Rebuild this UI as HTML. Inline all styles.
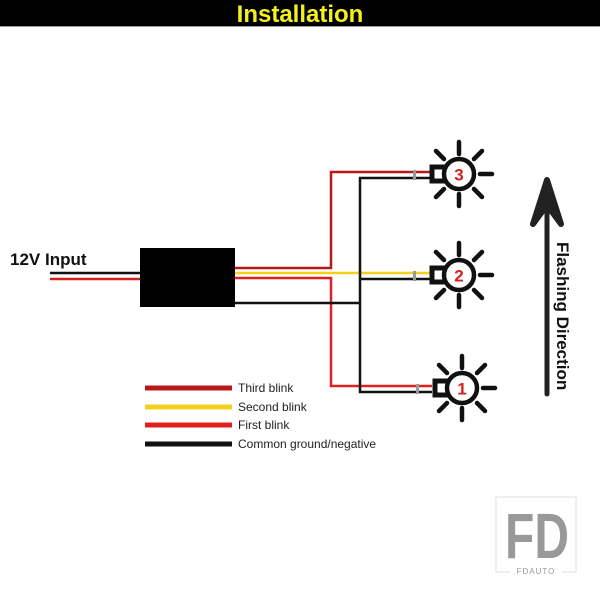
<!DOCTYPE html>
<html><head><style>
html,body{margin:0;padding:0;background:#fff;}
svg{display:block;font-family:"Liberation Sans",sans-serif;}
</style></head><body>
<svg width="600" height="600" viewBox="0 0 600 600" xmlns="http://www.w3.org/2000/svg">
<defs>
<g id="bulb">
<g stroke="#111" stroke-width="4.5" stroke-linecap="round">
<line x1="0" y1="-20" x2="0" y2="-32"/><line x1="0" y1="20" x2="0" y2="32"/>
<line x1="21" y1="0" x2="33" y2="0"/>
<line x1="15" y1="-15" x2="23" y2="-23"/><line x1="-15" y1="-15" x2="-23" y2="-23"/>
<line x1="15" y1="15" x2="23" y2="23"/><line x1="-15" y1="15" x2="-23" y2="23"/>
</g>
<rect x="-27" y="-7" width="13" height="14" fill="#fff" stroke="#111" stroke-width="5"/>
<circle r="15" fill="#fff" stroke="#111" stroke-width="4.5"/>
</g>
</defs>
<rect x="0" y="0" width="600" height="26" fill="#000"/>
<rect x="0" y="26" width="600" height="1" fill="#999"/>
<text x="300" y="22" text-anchor="middle" font-size="24" font-weight="bold" fill="#f4f01c">Installation</text>

<text x="10" y="265" font-size="17" font-weight="bold" fill="#111">12V Input</text>
<line x1="50" y1="273" x2="142" y2="273" stroke="#111" stroke-width="2.5"/>
<line x1="50" y1="279" x2="142" y2="279" stroke="#d42020" stroke-width="2.5"/>

<polyline points="234,268 331,268 331,172 430,172" fill="none" stroke="#b81818" stroke-width="2.5"/>
<polyline points="234,278 331,278 331,386 432,386" fill="none" stroke="#e02020" stroke-width="2.5"/>
<line x1="234" y1="273" x2="430" y2="273" stroke="#f2d21c" stroke-width="2.5"/>
<polyline points="234,303 360,303" fill="none" stroke="#111" stroke-width="2.5"/>
<polyline points="430,178 360,178 360,392 432,392" fill="none" stroke="#111" stroke-width="2.5"/>
<line x1="360" y1="279" x2="430" y2="279" stroke="#111" stroke-width="2.5"/>

<rect x="140" y="248" width="95" height="59" fill="#000"/>

<g transform="translate(459,174)"><use href="#bulb"/><rect x="-46" y="-4" width="3" height="10" fill="#999"/>
<text x="0" y="6.5" text-anchor="middle" font-size="17" font-weight="bold" fill="#d42020">3</text></g>
<g transform="translate(459,275)"><use href="#bulb"/><rect x="-46" y="-4" width="3" height="10" fill="#999"/>
<text x="0" y="6.5" text-anchor="middle" font-size="17" font-weight="bold" fill="#d42020">2</text></g>
<g transform="translate(462,388)"><use href="#bulb"/><rect x="-46" y="-4" width="3" height="10" fill="#999"/>
<text x="0" y="6.5" text-anchor="middle" font-size="17" font-weight="bold" fill="#d42020">1</text></g>

<line x1="547" y1="394" x2="547" y2="190" stroke="#222" stroke-width="5" stroke-linecap="round"/>
<path d="M547,180 L561,224 L547,205 L533,224 Z" fill="#222" stroke="#222" stroke-width="6" stroke-linejoin="round"/>
<text transform="translate(557,242) rotate(90)" font-size="17" font-weight="bold" fill="#111">Flashing Direction</text>

<g stroke-width="5">
<line x1="145" y1="388" x2="232" y2="388" stroke="#b81818"/>
<line x1="145" y1="407" x2="232" y2="407" stroke="#f2d21c"/>
<line x1="145" y1="425" x2="232" y2="425" stroke="#e02020"/>
<line x1="145" y1="444" x2="232" y2="444" stroke="#111"/>
</g>
<g font-size="12" fill="#222">
<text x="238" y="392">Third blink</text>
<text x="238" y="411">Second blink</text>
<text x="238" y="429">First blink</text>
<text x="238" y="448">Common ground/negative</text>
</g>

<rect x="496" y="497" width="80" height="75" fill="none" stroke="#ddd" stroke-width="1"/>
<text transform="translate(537,558) scale(0.75,1)" text-anchor="middle" font-size="64" font-weight="bold" fill="#999">FD</text>
<rect x="510" y="566" width="52" height="10" fill="#fff"/>
<text x="536" y="574" text-anchor="middle" font-size="8" fill="#999" letter-spacing="1">FDAUTO</text>
</svg>
</body></html>
